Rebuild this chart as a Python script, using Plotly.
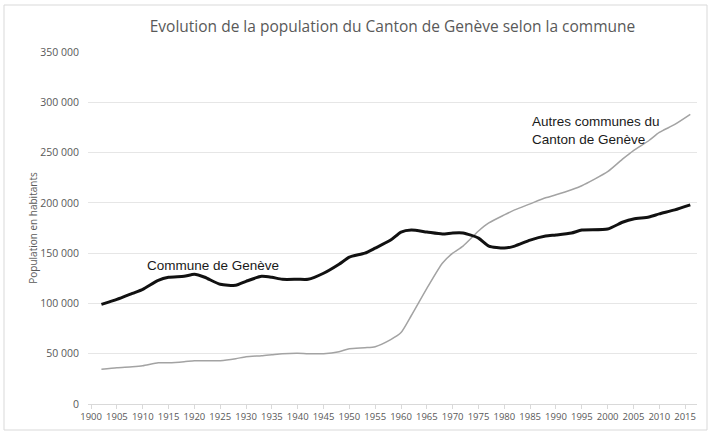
import plotly.graph_objects as go

years = [1902, 1905, 1908, 1910, 1913, 1915, 1918, 1920, 1922, 1925, 1928, 1930,
         1933, 1935, 1937, 1940, 1942, 1945, 1948, 1950, 1953, 1955, 1958, 1960,
         1962, 1965, 1968, 1970, 1972, 1975, 1977, 1980, 1982, 1985, 1988, 1990,
         1993, 1995, 2000, 2003, 2005, 2008, 2010, 2013, 2016]

geneve = [99000, 104000, 110000, 114000, 123000, 126000, 127000, 129000, 126000,
          119000, 118000, 122000, 127000, 126000, 124000, 124000, 124000, 130000,
          139000, 146000, 150000, 155000, 163000, 171000, 173000, 171000, 169000,
          170000, 170000, 165000, 157000, 155000, 157000, 163000, 167000, 168000,
          170000, 173000, 174000, 181000, 184000, 186000, 189000, 193000, 198000]

autres = [34500, 36000, 37000, 38000, 41000, 41000, 42000, 43000, 43000, 43000,
          45000, 47000, 48000, 49000, 50000, 50500, 50000, 50000, 52000, 55000,
          56000, 57000, 64000, 71000, 88000, 115000, 140000, 150000, 157000,
          172000, 180000, 188000, 193000, 199000, 205000, 208000, 213000, 217000,
          231000, 244000, 252000, 262000, 270000, 278000, 288000]

x_ticks = list(range(1900, 2016, 5))
y_ticks = [0, 50000, 100000, 150000, 200000, 250000, 300000, 350000]

title = "Evolution de la population du Canton de Genève selon la commune"
y_title = "Population en habitants"
label_geneve = "Commune de Genève"
label_autres = "Autres communes du<br>Canton de Genève"

FONT = "Open Sans"
LFONT = "Liberation Sans"
W, H = 712, 434
ML, MR, MT, MB = 88, 15, 52, 30

fig = go.Figure()
fig.add_trace(go.Scatter(x=years, y=autres, mode="lines",
                         line=dict(color="#a3a3a3", width=1.5, shape="spline", smoothing=0.6),
                         hoverinfo="x+y", showlegend=False))
fig.add_trace(go.Scatter(x=years, y=geneve, mode="lines",
                         line=dict(color="#111111", width=3, shape="spline", smoothing=0.6),
                         hoverinfo="x+y", showlegend=False))

fig.add_annotation(x=1910.5, y=138000, text=label_geneve, showarrow=False,
                   xanchor="left", yanchor="middle",
                   font=dict(family=LFONT, size=13.5, color="#1a1a1a"))
fig.add_annotation(x=1985, y=272000, text=label_autres, showarrow=False,
                   xanchor="left", yanchor="middle", align="left",
                   font=dict(family=LFONT, size=13.5, color="#1a1a1a"))

pw = W - ML - MR
ph = H - MT - MB
def px(xp):
    return (xp - ML) / pw
def py(yp):
    return (H - MB - yp) / ph

fig.add_shape(type="rect", xref="paper", yref="paper",
              x0=px(4), x1=px(707), y0=py(430), y1=py(5),
              line=dict(color="#d9d9d9", width=1), fillcolor="rgba(0,0,0,0)", layer="above")

fig.update_layout(
    width=W, height=H,
    margin=dict(l=ML, r=MR, t=MT, b=MB),
    paper_bgcolor="white", plot_bgcolor="white",
    separators=", ",
    title=dict(text=title, x=0.5, xref="paper", xanchor="center", y=1 - 27 / H, yanchor="middle",
               font=dict(family=FONT, size=15.5, color="#595959")),
    font=dict(family=FONT, color="#595959"),
    xaxis=dict(range=[1899.4, 2017.3], tickvals=x_ticks, ticktext=[str(v) for v in x_ticks],
               showgrid=False, zeroline=False, showline=True, linecolor="#d9d9d9", linewidth=1,
               ticks="outside", ticklen=4, tickcolor="#d9d9d9",
               tickfont=dict(family=FONT, size=9.5, color="#595959"), fixedrange=True),
    yaxis=dict(range=[0, 350000], tickvals=y_ticks, tickformat=",d",
               showgrid=True, gridcolor="#e6e6e6", gridwidth=1, zeroline=False,
               showline=False, ticks="", ticklabelstandoff=8,
               tickfont=dict(family=FONT, size=10.5, color="#595959"),
               title=dict(text=y_title, font=dict(family=FONT, size=10, color="#595959"), standoff=0),
               fixedrange=True),
)

fig.write_html("out.html", config={"displayModeBar": False},
               post_script="document.body.style.margin='0';")
